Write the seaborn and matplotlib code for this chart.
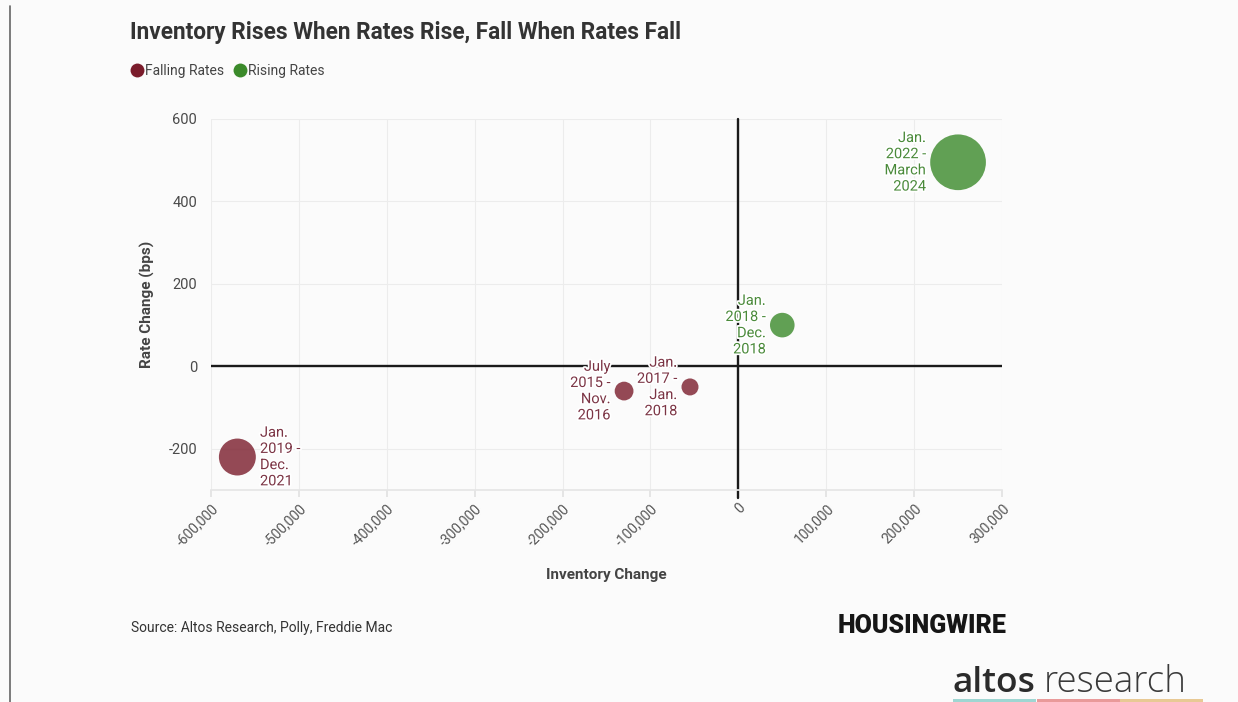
import numpy as np
import pandas as pd
import matplotlib
matplotlib.use("Agg")
import matplotlib.pyplot as plt
import matplotlib.patheffects as pe
from matplotlib.lines import Line2D
from matplotlib.patches import Rectangle
from matplotlib.ticker import FuncFormatter
import seaborn as sns

# data
periods = ["July\n2015 -\nNov.\n2016", "Jan.\n2017 -\nJan.\n2018", "Jan.\n2018 -\nDec.\n2018",
           "Jan.\n2019 -\nDec.\n2021", "Jan.\n2022 -\nMarch\n2024"]
inventory_change = [-130000, -55000, 50000, -570000, 250000]
rate_change = [-60, -50, 100, -220, 495]
trend = ["Falling Rates", "Falling Rates", "Rising Rates", "Falling Rates", "Rising Rates"]
x_ticks = [-600000, -500000, -400000, -300000, -200000, -100000, 0, 100000, 200000, 300000]
y_ticks = [-200, 0, 200, 400, 600]

df = pd.DataFrame({"period": periods, "inventory": inventory_change,
                   "rate": rate_change, "trend": trend})
df["bubble"] = df["rate"].abs()

BG = "#fbfbfb"
palette = {"Falling Rates": "#7a1c2b", "Rising Rates": "#3b8a2a"}
text_col = {"Falling Rates": "#7b3444", "Rising Rates": "#4a8a3a"}
SIZES = (150, 1625)
SIZE_NORM = (50, 500)

sns.set_theme(style="whitegrid")
plt.rcParams["font.family"] = ["Roboto", "DejaVu Sans"]
plt.rcParams["axes.unicode_minus"] = False

fig = plt.figure(figsize=(12.38, 7.02), dpi=100, facecolor=BG)
ax = fig.add_axes([211 / 1238, 1 - 490 / 702, 791 / 1238, 371 / 702])
ax.set_facecolor(BG)

sns.scatterplot(data=df, x="inventory", y="rate", hue="trend", palette=palette,
                size="bubble", sizes=SIZES, size_norm=SIZE_NORM, alpha=0.8,
                linewidth=0, legend=False, ax=ax, zorder=3)

ax.axhline(0, color="#1a1a1a", lw=1.7, zorder=2)
ax.axvline(0, ymin=-0.022, ymax=1, color="#1a1a1a", lw=1.7, zorder=2, clip_on=False)

# bubble labels
halo = [pe.withStroke(linewidth=2.5, foreground="white")]
for _, row in df.iterrows():
    s = SIZES[0] + (row["bubble"] - SIZE_NORM[0]) / (SIZE_NORM[1] - SIZE_NORM[0]) * (SIZES[1] - SIZES[0])
    r = np.sqrt(s) / 2
    right = row["inventory"] < -400000
    ax.annotate(row["period"], (row["inventory"], row["rate"]),
                xytext=((r + 3) if right else -(r + 3), 0), textcoords="offset points",
                ha="left" if right else "right", va="center",
                multialignment="left" if right else "right",
                fontsize=10.5, color=text_col[row["trend"]], linespacing=1.2, zorder=4,
                path_effects=halo)

ax.set_xlim(-600000, 300000)
ax.set_ylim(-300, 600)
ax.set_xticks(x_ticks)
ax.set_yticks(y_ticks)
ax.xaxis.set_major_formatter(FuncFormatter(lambda v, p: f"{int(v):,}"))
ax.grid(True, color="#ececec", lw=0.8)
for side in ["top", "right", "left"]:
    ax.spines[side].set_visible(False)
ax.spines["bottom"].set_color("#e6e6e6")
ax.tick_params(axis="x", colors="#555555", labelsize=10, length=5, color="#e2e2e2",
               pad=3, labelrotation=45, bottom=True)
for lbl in ax.get_xticklabels():
    lbl.set_ha("right")
    lbl.set_rotation_mode("anchor")
ax.tick_params(axis="y", colors="#4a4a4a", labelsize=10.5, length=0, pad=10)

ax.set_xlabel("Inventory Change", fontsize=11, fontweight="bold", color="#444444", labelpad=14)
ax.set_ylabel("Rate Change (bps)", fontsize=11, fontweight="bold", color="#444444", labelpad=10)

# title and legend
fig.text(130 / 1238, 1 - 32 / 702, "Inventory Rises When Rates Rise, Fall When Rates Fall",
         fontsize=16.3, fontweight="bold", color="#333333", va="center", ha="left")
handles = [Line2D([], [], marker="o", ls="", markersize=10, markerfacecolor=palette[k],
                  markeredgewidth=0) for k in palette]
fig.legend(handles, list(palette), loc="center left", bbox_to_anchor=(130 / 1238, 1 - 71 / 702),
           ncol=2, frameon=False, handletextpad=0.1, columnspacing=0.6, handlelength=1.0,
           borderpad=0, borderaxespad=0, labelcolor="#444444", prop={"size": 10})

# footer
fig.text(131 / 1238, 1 - 628 / 702, "Source: Altos Research, Polly, Freddie Mac",
         fontsize=10, color="#333333", va="center", ha="left")
fig.text(838 / 1238, 1 - 626 / 702, "HOUSINGWIRE", fontsize=18, fontweight="black",
         family=["Roboto", "DejaVu Sans"], color="#161616", va="center", ha="left")
fig.text(952 / 1238, 1 - 683 / 702, "altos", fontsize=25.5, fontweight="semibold",
         family=["Open Sans", "DejaVu Sans"], color="#2b2b2b", va="center", ha="left")
fig.text(1044 / 1238, 1 - 683 / 702, "research", fontsize=26.5, fontweight="light",
         family=["Open Sans", "DejaVu Sans"], color="#3a3a3a", va="center", ha="left")
for x0, c in zip([953, 1037, 1120], ["#9fd6d2", "#e99a9a", "#e8c994"]):
    fig.add_artist(Rectangle((x0 / 1238, 0), 83 / 1238, 3 / 702, transform=fig.transFigure,
                             color=c, lw=0))
fig.add_artist(Line2D([9.5 / 1238, 9.5 / 1238], [0, 1 - 6 / 702], transform=fig.transFigure,
                      color="#666666", lw=1.2))

fig.savefig("out.png", dpi=100, facecolor=BG)
